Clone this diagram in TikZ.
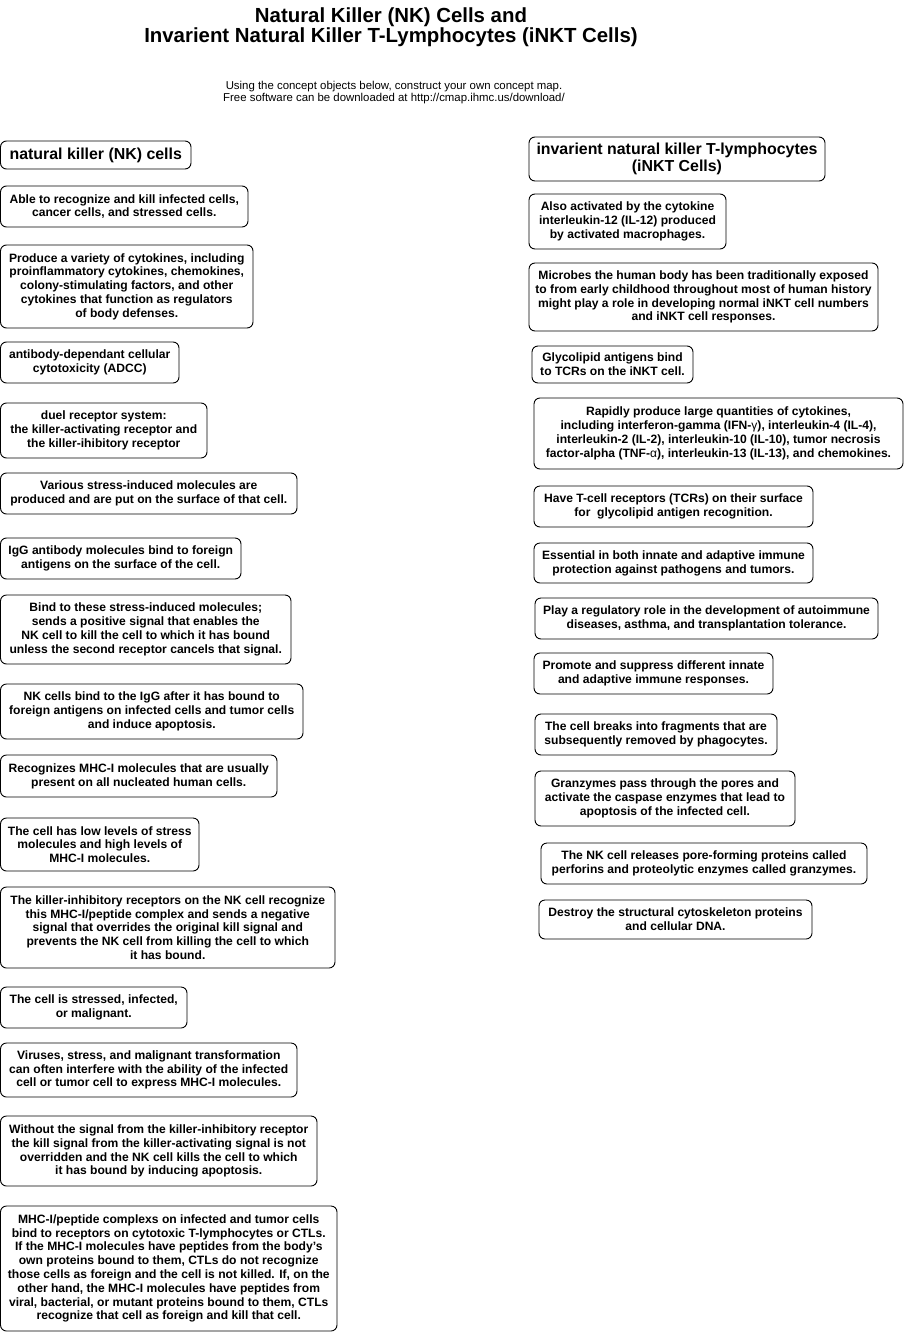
\documentclass[tikz,border=0pt]{standalone}
\usepackage{fontspec}
\setmainfont{Liberation Sans}
\tikzset{
  concept/.style={draw=black, line width=0.9pt, rounded corners=6pt, inner sep=0pt,
    align=center, font=\bfseries\fontsize{12.1}{13.8}\selectfont},
  headconcept/.style={concept, font=\bfseries\fontsize{15.9}{16.8}\selectfont},
}
\newcommand\conceptbox[7][concept]{%
  \node[#1, minimum width={#5-#3}, minimum height={#6-#4}] (#2) at ({(#3+#5)/2},{(#4+#6)/2}) {#7};}
\begin{document}
\begin{tikzpicture}[x=1pt,y=-1pt]
\useasboundingbox (0,0) rectangle (907,1333);
\fill[white] (0,0) rectangle (907,1333);
\node[font=\bfseries\fontsize{20.4}{20.5}\selectfont, align=center, inner sep=0pt] (title) at (391,27)
  {Natural Killer (NK) Cells and\\Invarient Natural Killer T-Lymphocytes (iNKT Cells)};
\node[font=\fontsize{11.4}{12}\selectfont, align=center, inner sep=0pt] (subtitle) at (394,93)
  {Using the concept objects below, construct your own concept map.\\Free software can be downloaded at http://cmap.ihmc.us/download/};
% left column
\conceptbox[headconcept]{l1}{0.5}{141}{191}{169}{natural killer (NK) cells}
\conceptbox{l2}{0.5}{186}{248}{227}{Able to recognize and kill infected cells,\\cancer cells, and stressed cells.}
\conceptbox{l3}{0.5}{245}{253}{328}{Produce a variety of cytokines, including\\proinflammatory cytokines, chemokines,\\colony-stimulating factors, and other\\cytokines that function as regulators\\of body defenses.}
\conceptbox{l4}{0.5}{342}{179}{383}{antibody-dependant cellular\\cytotoxicity (ADCC)}
\conceptbox{l5}{0.5}{403}{207}{458}{duel receptor system:\\the killer-activating receptor and\\the killer-ihibitory receptor}
\conceptbox{l6}{0.5}{473}{297}{514}{Various stress-induced molecules are\\produced and are put on the surface of that cell.}
\conceptbox{l7}{0.5}{538}{241}{579}{IgG antibody molecules bind to foreign\\antigens on the surface of the cell.}
\conceptbox{l8}{0.5}{595}{291}{664}{Bind to these stress-induced molecules;\\sends a positive signal that enables the\\NK cell to kill the cell to which it has bound\\unless the second receptor cancels that signal.}
\conceptbox{l9}{0.5}{684}{303}{739}{NK cells bind to the IgG after it has bound to\\foreign antigens on infected cells and tumor cells\\and induce apoptosis.}
\conceptbox{l10}{0.5}{755}{277}{797}{Recognizes MHC-I molecules that are usually\\present on all nucleated human cells.}
\conceptbox{l11}{0.5}{818}{199}{871}{The cell has low levels of stress\\molecules and high levels of\\MHC-I molecules.}
\conceptbox{l12}{0.5}{887}{335}{968}{The killer-inhibitory receptors on the NK cell recognize\\this MHC-I/peptide complex and sends a negative\\signal that overrides the original kill signal and\\prevents the NK cell from killing the cell to which\\it has bound.}
\conceptbox{l13}{0.5}{987}{187}{1028}{The cell is stressed, infected,\\or malignant.}
\conceptbox{l14}{0.5}{1043}{297}{1097}{Viruses, stress, and malignant transformation\\can often interfere with the ability of the infected\\cell or tumor cell to express MHC-I molecules.}
\conceptbox{l15}{0.5}{1116}{317}{1186}{Without the signal from the killer-inhibitory receptor\\the kill signal from the killer-activating signal is not\\overridden and the NK cell kills the cell to which\\it has bound by inducing apoptosis.}
\conceptbox{l16}{0.5}{1206}{337}{1331}{MHC-I/peptide complexs on infected and tumor cells\\bind to receptors on cytotoxic T-lymphocytes or CTLs.\\If the MHC-I molecules have peptides from the body's\\own proteins bound to them, CTLs do not recognize\\those cells as foreign and the cell is not killed. If, on the\\other hand, the MHC-I molecules have peptides from\\viral, bacterial, or mutant proteins bound to them, CTLs\\recognize that cell as foreign and kill that cell.}
% right column
\conceptbox[headconcept]{r1}{529}{137}{825}{181}{invarient natural killer T-lymphocytes\\(iNKT Cells)}
\conceptbox{r2}{529}{194}{726}{249}{Also activated by the cytokine\\interleukin-12 (IL-12) produced\\by activated macrophages.}
\conceptbox{r3}{529}{263}{878}{331}{Microbes the human body has been traditionally exposed\\to from early childhood throughout most of human history\\might play a role in developing normal iNKT cell numbers\\and iNKT cell responses.}
\conceptbox{r4}{532}{346}{693}{383}{Glycolipid antigens bind\\to TCRs on the iNKT cell.}
\conceptbox{r5}{534}{398}{903}{469}{Rapidly produce large quantities of cytokines,\\including interferon-gamma (IFN-{\mdseries γ}), interleukin-4 (IL-4),\\interleukin-2 (IL-2), interleukin-10 (IL-10), tumor necrosis\\factor-alpha (TNF-{\mdseries α}), interleukin-13 (IL-13), and chemokines.}
\conceptbox{r6}{534}{486}{813}{527}{Have T-cell receptors (TCRs) on their surface\\for\ \ glycolipid antigen recognition.}
\conceptbox{r7}{534}{543}{813}{583}{Essential in both innate and adaptive immune\\protection against pathogens and tumors.}
\conceptbox{r8}{535}{598}{878}{639}{Play a regulatory role in the development of autoimmune\\diseases, asthma, and transplantation tolerance.}
\conceptbox{r9}{534}{653}{773}{694}{Promote and suppress different innate\\and adaptive immune responses.}
\conceptbox{r10}{535}{714}{777}{755}{The cell breaks into fragments that are\\subsequently removed by phagocytes.}
\conceptbox{r11}{535}{771}{795}{826}{Granzymes pass through the pores and\\activate the caspase enzymes that lead to\\apoptosis of the infected cell.}
\conceptbox{r12}{541}{843}{867}{884}{The NK cell releases pore-forming proteins called\\perforins and proteolytic enzymes called granzymes.}
\conceptbox{r13}{539}{900}{812}{939}{Destroy the structural cytoskeleton proteins\\and cellular DNA.}
\end{tikzpicture}
\end{document}
